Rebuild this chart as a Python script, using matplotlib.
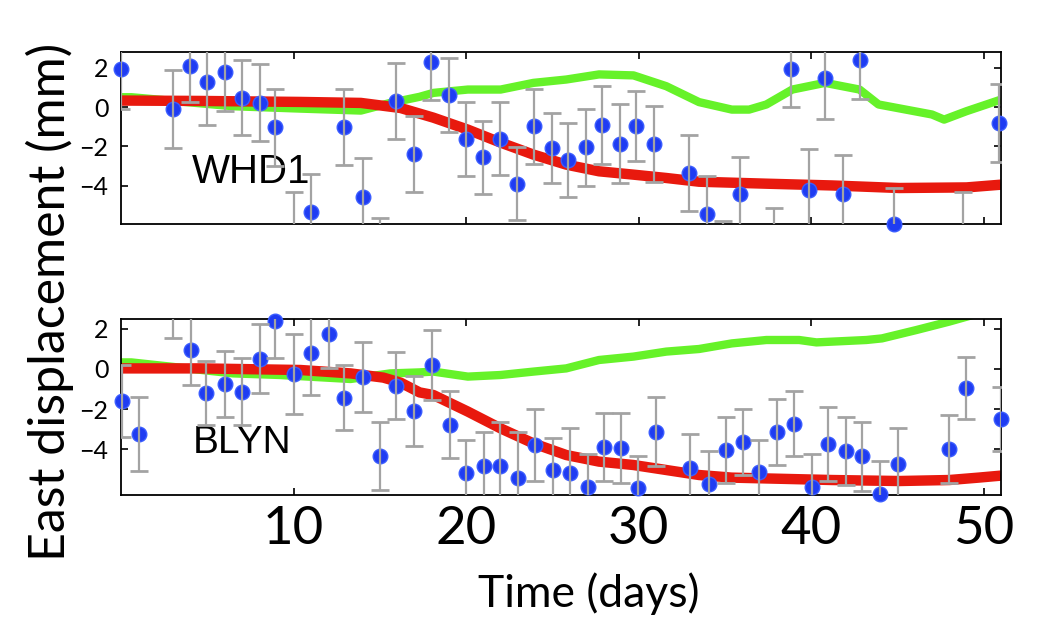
import numpy as np
import matplotlib
matplotlib.use("Agg")
import matplotlib.pyplot as plt

# ---- WHD1 (top panel) ----
whd1_t = [0.0, 3.0, 4.0, 5.0, 6.0, 7.0, 8.05, 8.9, 10.0, 11.0, 12.95, 14.05, 15.0,
          15.95, 17.0, 17.95, 19.0, 20.0, 21.0, 21.95, 22.95, 23.95, 24.95, 25.9,
          26.95, 27.9, 28.9, 29.85, 30.9, 32.9, 33.95, 34.9, 35.9, 37.85, 38.85,
          39.85, 40.8, 41.85, 42.85, 44.8, 48.8, 50.9]
whd1_e = [1.96, -0.1, 2.1, 1.27, 1.78, 0.48, 0.23, -1.04, -6.3, -5.35, -1.01, -4.58, -7.6,
          0.32, -2.4, 2.29, 0.6, -1.63, -2.56, -1.61, -3.9, -0.97, -2.1, -2.7,
          -2.05, -0.91, -1.86, -0.96, -1.88, -3.34, -5.43, -7.75, -4.43, -7.1, 1.96,
          -4.24, 1.49, -4.43, 2.39, -5.96, -6.3, -0.81]
whd1_err = [2.05, 2.0, 1.85, 2.2, 1.96, 1.92, 1.97, 1.98, 1.97, 1.96, 1.95, 2.0, 1.95,
            1.94, 1.93, 1.94, 1.88, 1.87, 1.87, 1.87, 1.87, 1.91, 1.79, 1.89,
            1.96, 1.97, 1.99, 1.8, 1.92, 1.94, 1.94, 1.95, 1.87, 1.95, 1.95,
            2.1, 2.09, 1.97, 1.96, 1.84, 1.97, 1.99]
whd1_red_t = [0.0, 4.6, 10.4, 13.9, 16.2, 18.1, 20.1, 22.0, 23.9, 25.8, 27.7, 29.7,
              31.6, 33.5, 37.4, 41.2, 45.1, 49.0, 51.0]
whd1_red = [0.33, 0.31, 0.26, 0.21, -0.05, -0.54, -1.15, -1.81, -2.42, -2.93, -3.27, -3.44,
            -3.61, -3.8, -3.9, -3.99, -4.12, -4.09, -3.95]
whd1_grn_t = [0.0, 0.6, 6.5, 10.4, 13.9, 15.6, 17.3, 18.1, 20.1, 22.0, 23.9, 25.8, 27.7,
              29.7, 31.6, 33.5, 35.4, 36.4, 37.4, 38.9, 40.8, 42.8, 43.9, 47.0, 47.7,
              49.0, 51.0]
whd1_grn = [0.5, 0.5, 0.04, -0.08, -0.18, 0.21, 0.52, 0.72, 0.89, 0.89, 1.23, 1.4, 1.66,
            1.61, 1.06, 0.25, -0.13, -0.13, 0.13, 0.89, 1.23, 0.89, 0.13, -0.38, -0.64,
            -0.21, 0.38]

# ---- BLYN (bottom panel) ----
blyn_t = [0.05, 1.05, 3.0, 4.05, 4.95, 6.05, 7.0, 8.05, 8.9, 10.0, 11.0, 12.05, 12.95,
          14.05, 15.0, 15.95, 17.0, 18.0, 19.05, 20.0, 21.05, 21.95, 23.0, 24.0, 25.05,
          26.0, 27.05, 28.0, 29.0, 29.95, 31.0, 33.0, 34.05, 35.05, 36.05, 37.0, 38.0,
          39.0, 40.05, 40.95, 42.0, 42.95, 44.0, 45.0, 48.0, 48.95, 51.0]
blyn_e = [-1.6, -3.25, 3.4, 0.95, -1.2, -0.75, -1.13, 0.52, 2.4, -0.26, 0.82, 1.73, -1.43,
          -0.4, -4.34, -0.83, -2.1, 0.2, -2.78, -5.18, -4.85, -4.85, -5.47, -3.81, -5.05,
          -5.18, -5.92, -3.91, -3.95, -5.97, -3.14, -4.93, -5.75, -4.05, -3.65, -5.13, -3.15,
          -2.73, -5.88, -3.75, -4.11, -4.36, -6.25, -4.77, -4.0, -0.95, -2.5]
blyn_err = [1.8, 1.83, 1.83, 1.75, 1.62, 1.67, 1.67, 1.73, 1.87, 1.99, 2.1, 1.7, 1.63,
            1.73, 1.71, 1.67, 1.73, 1.73, 1.68, 1.63, 1.72, 2.2, 2.34, 1.79, 1.58,
            2.25, 1.65, 1.69, 1.73, 1.62, 1.72, 1.68, 1.67, 1.63, 1.63, 1.58, 1.63,
            1.63, 1.63, 1.83, 1.69, 1.73, 1.63, 1.84, 1.68, 1.57, 1.58]
blyn_red_t = [0.0, 4.6, 10.4, 13.3, 15.2, 16.2, 17.3, 18.1, 20.1, 22.0, 23.9, 25.8, 27.7,
              29.7, 31.6, 33.5, 35.4, 41.2, 45.1, 48.0, 49.7, 51.0]
blyn_red = [0.03, 0.03, -0.05, -0.22, -0.43, -0.68, -1.17, -1.3, -2.13, -2.97, -3.72, -4.3,
            -4.63, -4.8, -5.05, -5.3, -5.43, -5.55, -5.6, -5.55, -5.43, -5.33]
blyn_grn_t = [0.0, 0.6, 6.5, 9.2, 13.3, 15.6, 17.3, 18.1, 20.1, 22.0, 23.9, 25.8, 27.7,
              29.7, 31.6, 33.5, 35.4, 37.4, 39.3, 40.3, 43.2, 44.1, 46.1, 48.0, 51.0]
blyn_grn = [0.33, 0.33, -0.22, -0.3, -0.5, -0.22, -0.17, -0.13, -0.38, -0.3, -0.13, 0.03, 0.45,
            0.62, 0.87, 1.0, 1.28, 1.45, 1.45, 1.33, 1.45, 1.53, 1.95, 2.37, 3.1]

x_ticks = [10, 20, 30, 40, 50]
y_ticks = [2, 0, -2, -4]

RED = "#e8190e"
GREEN = "#66f229"
BLUE = "#1f3cf2"
GRAY = "#a3a3a3"
LABEL_FONT = ["Lato", "DejaVu Sans"]


def draw_panel(ax, t, e, err, red_t, red, grn_t, grn, ylim, name, name_y, size):
    ax.set_xlim(0, 51)
    ax.set_ylim(*ylim)
    ax.plot(grn_t, grn, color=GREEN, lw=6, solid_capstyle="butt", zorder=2)
    ax.plot(red_t, red, color=RED, lw=7.5, solid_capstyle="butt", zorder=2.5)

    t = np.array(t)
    e = np.array(e)
    err = np.array(err)
    # markers whose centre falls inside the frame are drawn whole
    shown = (e >= ylim[0] - 0.05) & (e <= ylim[1] + 0.05)
    ax.plot(t[shown], e[shown], "o", color=BLUE, ms=10.5, mec="#3a5cff", mew=1,
            clip_on=False, zorder=3)
    ax.errorbar(t, e, yerr=err, fmt="none", ecolor=GRAY, elinewidth=1.6,
                capsize=6.5, capthick=2, zorder=4)

    ax.text(0.081, name_y, name, transform=ax.transAxes, fontsize=size,
            family="Liberation Sans", va="center", ha="left")

    ax.set_xticks(x_ticks)
    ax.set_yticks(y_ticks)
    ax.tick_params(direction="in", length=5, width=1.2, top=True, right=True,
                   labelsize=18, pad=9)
    for lab in ax.get_yticklabels():
        lab.set_family(LABEL_FONT)
    for sp in ax.spines.values():
        sp.set_linewidth(1.3)


fig = plt.figure(figsize=(10.38, 6.17), dpi=100)
ax1 = fig.add_axes([0.1166, 0.637, 0.8478, 0.2787])
ax2 = fig.add_axes([0.1166, 0.1977, 0.8478, 0.2853])

draw_panel(ax1, whd1_t, whd1_e, whd1_err, whd1_red_t, whd1_red, whd1_grn_t, whd1_grn,
           (-5.95, 2.8), "WHD1", 0.305, 29)
draw_panel(ax2, blyn_t, blyn_e, blyn_err, blyn_red_t, blyn_red, blyn_grn_t, blyn_grn,
           (-6.3, 2.5), "BLYN", 0.298, 28)

ax1.tick_params(labelbottom=False)
ax2.tick_params(axis="x", labelsize=38, pad=8)
for lab in ax2.get_xticklabels():
    lab.set_family(LABEL_FONT)

fig.text(0.567, 0.038, "Time (days)", fontsize=32, family=LABEL_FONT,
         ha="center", va="center")
fig.text(0.048, 0.51, "East displacement (mm)", rotation=90, fontsize=36,
         family=LABEL_FONT, ha="center", va="center")

fig.savefig("out.png", dpi=100)
